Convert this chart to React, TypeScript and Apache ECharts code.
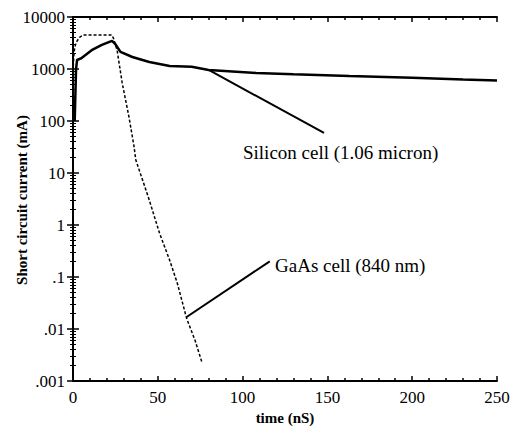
import React, { useEffect, useRef } from "react";
import * as echarts from "echarts";

const siliconTime = [1, 1.8, 2.4, 4.7, 11, 17, 23, 25, 28, 35, 45, 57, 70, 80, 108, 130, 163, 200, 230, 250];
const siliconCurrent = [100, 1000, 1490, 1600, 2300, 2900, 3470, 3000, 2130, 1700, 1365, 1140, 1100, 960, 840, 790, 730, 680, 630, 600];

const gaasTime = [0, 0.5, 1, 2, 4, 6, 10, 23, 24, 26, 29, 33, 36, 37, 45, 51, 57, 61.5, 67, 72, 76];
const gaasCurrent = [900, 1800, 2600, 3300, 4100, 4500, 4500, 4500, 3800, 2300, 540, 120, 32, 18, 3, 0.7, 0.21, 0.076, 0.016, 0.006, 0.0023];

const yTickLabels: Record<string, string> = {
  "0.001": ".001",
  "0.01": ".01",
  "0.1": ".1",
  "1": "1",
  "10": "10",
  "100": "100",
  "1000": "1000",
  "10000": "10000",
};

const siliconLeader = [[80, 960], [148, 59]];
const gaasLeader = [[67, 0.017], [116, 0.2]];

const FONT = "Liberation Serif";

export default function App() {
  const ref = useRef<HTMLDivElement>(null);
  useEffect(() => {
    if (!ref.current) return;
    const chart = echarts.init(ref.current, undefined, { renderer: "svg" });
    const fmtY = (v: number) => {
      const key = String(Number(v.toPrecision(6)));
      return yTickLabels[key] ?? "";
    };
    const commonX = {
      type: "value" as const,
      min: 0,
      max: 250,
      interval: 50,
      axisLine: { show: true, lineStyle: { color: "#000", width: 2 } },
      axisTick: { show: true, inside: true, length: 5, lineStyle: { color: "#000", width: 1.5 } },
      minorTick: { show: true, splitNumber: 5, length: 3, lineStyle: { color: "#000", width: 1.5 } },
      splitLine: { show: false },
    };
    const commonY = {
      type: "log" as const,
      logBase: 10,
      min: 0.001,
      max: 10000,
      axisLine: { show: true, lineStyle: { color: "#000", width: 2 } },
      axisTick: { show: true, inside: true, length: 6, lineStyle: { color: "#000", width: 1.5 } },
      minorTick: { show: true, splitNumber: 9, length: 3, lineStyle: { color: "#000", width: 1 } },
      splitLine: { show: false },
    };
    chart.setOption({
      animation: false,
      backgroundColor: "#fff",
      grid: { left: 73, right: 17, top: 17, bottom: 52, outerBoundsMode: "none", containLabel: false },
      xAxis: [
        {
          ...commonX,
          position: "bottom",
          name: "time (nS)",
          nameLocation: "middle",
          nameGap: 24,
          nameTextStyle: { fontFamily: FONT, fontWeight: "bold", fontSize: 15, color: "#000" },
          axisLabel: { fontFamily: FONT, fontSize: 17, color: "#000", margin: 8 },
        },
        { ...commonX, position: "top", axisLabel: { show: false } },
      ],
      yAxis: [
        {
          ...commonY,
          position: "left",
          axisLabel: { fontFamily: FONT, fontSize: 17, color: "#000", margin: 8, formatter: fmtY },
        },
        { ...commonY, position: "right", axisLabel: { show: false } },
      ],
      series: [
        {
          name: "Silicon cell (1.06 micron)",
          type: "line",
          data: siliconTime.map((t, i) => [t, siliconCurrent[i]]),
          showSymbol: false,
          smooth: false,
          lineStyle: { color: "#000", width: 2.5 },
          markLine: {
            silent: true,
            symbol: "none",
            label: { show: false },
            lineStyle: { color: "#000", width: 2, type: "solid" },
            data: [[{ coord: siliconLeader[0] }, { coord: siliconLeader[1] }]],
          },
        },
        {
          name: "GaAs cell (840 nm)",
          type: "line",
          data: gaasTime.map((t, i) => [t, gaasCurrent[i]]),
          showSymbol: false,
          lineStyle: { color: "#000", width: 1.5, type: [3, 2] },
          markLine: {
            silent: true,
            symbol: "none",
            label: { show: false },
            lineStyle: { color: "#000", width: 2, type: "solid" },
            data: [[{ coord: gaasLeader[0] }, { coord: gaasLeader[1] }]],
          },
        },
      ],
      graphic: [
        {
          type: "text",
          x: 22,
          y: 200,
          rotation: Math.PI / 2,
          style: {
            text: "Short circuit current (mA)",
            font: `bold 15px "${FONT}"`,
            fill: "#000",
            textAlign: "center",
            textVerticalAlign: "middle",
          },
        },
        {
          type: "text",
          left: 243,
          top: 143,
          style: { text: "Silicon cell (1.06 micron)", font: `19px "${FONT}"`, fill: "#000" },
        },
        {
          type: "text",
          left: 275,
          top: 256,
          style: { text: "GaAs cell (840 nm)", font: `19px "${FONT}"`, fill: "#000" },
        },
      ],
    });
    return () => chart.dispose();
  }, []);
  return <div ref={ref} style={{ width: 514, height: 433, position: "absolute", left: 0, top: 0 }} />;
}
